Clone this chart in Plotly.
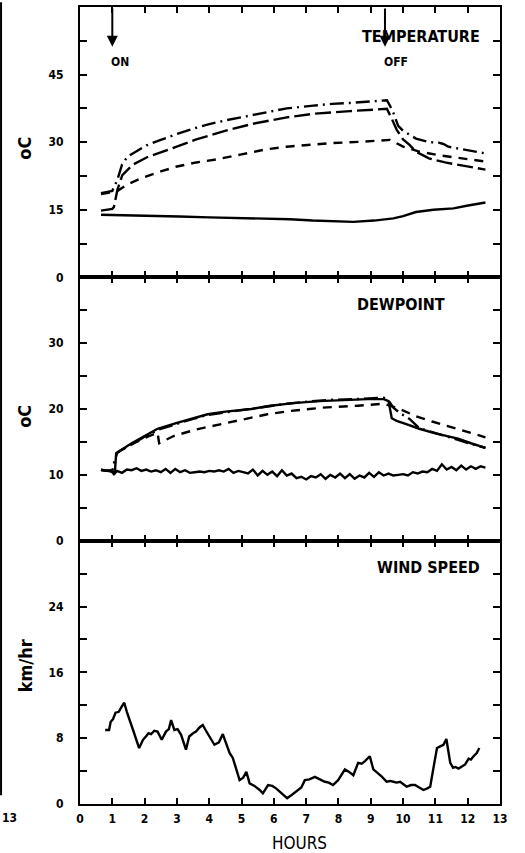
import plotly.graph_objects as go
from plotly.subplots import make_subplots

# ---------------- DATA ----------------
# Temperature panel (deg C)
t_dashdot_x = [0.65, 1.0, 1.15, 1.3, 1.47, 2.06, 2.5, 2.99, 3.6, 4.0, 4.54, 5.36, 5.9, 6.4, 7.22, 7.8, 8.36, 8.9, 9.2, 9.5, 9.6, 9.7, 9.85, 10.0, 10.4, 10.8, 11.1, 11.25, 11.4, 11.97, 12.55]
t_dashdot_y = [18.7, 19.2, 21.5, 25.0, 26.8, 29.3, 30.5, 31.8, 33.2, 34.0, 34.9, 36.1, 36.9, 37.5, 38.1, 38.5, 38.7, 39.0, 39.2, 39.3, 38.0, 36.5, 33.6, 32.5, 30.8, 30.0, 29.9, 29.6, 29.0, 28.2, 27.5]

t_longdash_x = [0.65, 1.0, 1.05, 1.16, 1.31, 1.63, 2.06, 2.99, 3.6, 4.54, 5.36, 6.4, 7.22, 8.36, 9.0, 9.5, 9.65, 9.8, 10.0, 10.2, 10.4, 10.8, 11.3, 11.97, 12.55]
t_longdash_y = [14.8, 15.2, 15.6, 19.5, 22.7, 25.0, 26.6, 29.1, 30.6, 32.6, 34.1, 35.5, 36.3, 36.9, 37.2, 37.4, 35.2, 32.8, 30.6, 29.4, 27.9, 26.4, 25.5, 24.7, 23.9]

t_dash_x = [0.65, 1.0, 1.12, 1.46, 1.9, 2.5, 3.0, 3.6, 4.25, 5.0, 5.76, 6.4, 7.0, 7.8, 8.7, 9.2, 9.6, 10.0, 10.5, 11.2, 11.9, 12.55]
t_dash_y = [18.5, 18.9, 19.0, 20.6, 22.0, 23.5, 24.6, 25.5, 26.2, 27.3, 28.4, 29.0, 29.4, 29.8, 30.1, 30.4, 30.5, 29.0, 27.9, 27.0, 26.3, 25.7]

t_amb_x = [0.65, 1.5, 2.3, 3.07, 4.0, 5.0, 5.76, 6.5, 7.2, 7.9, 8.46, 9.1, 9.7, 10.0, 10.4, 10.94, 11.3, 11.56, 11.97, 12.3, 12.55]
t_amb_y = [13.9, 13.8, 13.7, 13.5, 13.3, 13.2, 13.1, 12.9, 12.6, 12.4, 12.3, 12.6, 13.1, 13.6, 14.5, 15.0, 15.1, 15.3, 15.9, 16.3, 16.6]

# Dewpoint panel (deg C)
dp_dashdot_x = [0.65, 1.0, 1.06, 1.15, 1.3, 1.6, 2.0, 2.45, 3.0, 3.5, 3.95, 4.5, 5.0, 5.4, 5.9, 6.4, 7.0, 7.8, 8.5, 9.0, 9.4, 9.55, 9.7, 9.9, 10.2, 10.5, 11.0, 11.7, 12.1, 12.55]
dp_dashdot_y = [10.7, 10.6, 12.0, 13.3, 13.8, 14.7, 15.8, 16.9, 17.8, 18.5, 19.1, 19.5, 19.8, 20.1, 20.5, 20.8, 21.1, 21.4, 21.5, 21.6, 21.7, 21.3, 20.2, 19.4, 18.5, 17.1, 16.3, 15.3, 14.7, 14.1]

dp_solid_x = [0.65, 1.0, 1.08, 1.12, 1.3, 1.6, 2.0, 2.4, 3.0, 3.5, 3.95, 4.5, 5.3, 5.9, 6.6, 7.4, 8.2, 8.9, 9.4, 9.55, 9.65, 9.8, 10.1, 10.5, 11.0, 11.7, 12.1, 12.55]
dp_solid_y = [10.8, 10.5, 10.4, 13.3, 13.9, 14.8, 15.9, 17.0, 17.9, 18.6, 19.2, 19.6, 20.0, 20.5, 20.9, 21.2, 21.4, 21.5, 21.5, 21.2, 18.6, 18.2, 17.7, 17.0, 16.3, 15.5, 14.8, 14.1]

dp_dash_x = [1.15, 1.5, 2.0, 2.4, 2.45, 2.9, 3.6, 4.4, 5.1, 5.8, 6.5, 7.5, 8.6, 9.4, 9.9, 10.4, 10.9, 11.7, 12.55]
dp_dash_y = [13.4, 14.4, 15.6, 16.4, 14.8, 15.9, 16.9, 17.7, 18.5, 19.2, 19.7, 20.2, 20.5, 20.8, 20.0, 18.9, 18.1, 16.9, 15.7]

dp_amb_x = [0.65, 0.8, 0.95, 1.05, 1.15, 1.3, 1.45, 1.6, 1.75, 1.9, 2.05, 2.2, 2.35, 2.5, 2.65, 2.8, 2.95, 3.1, 3.25, 3.4,
            3.55, 3.7, 3.85, 4.0, 4.15, 4.3, 4.45, 4.6, 4.75, 4.9, 5.05, 5.2, 5.35, 5.5, 5.65, 5.8, 5.95, 6.1, 6.25, 6.4,
            6.55, 6.7, 6.85, 7.0, 7.15, 7.3, 7.45, 7.6, 7.75, 7.9, 8.05, 8.2, 8.35, 8.5, 8.65, 8.8, 8.95, 9.1, 9.25, 9.4,
            9.55, 9.7, 9.85, 10.0, 10.15, 10.3, 10.45, 10.6, 10.75, 10.9, 11.05, 11.2, 11.35, 11.5, 11.65, 11.8, 11.95,
            12.1, 12.25, 12.4, 12.55]
dp_amb_y = [10.8, 10.6, 10.7, 10.1, 10.6, 10.3, 10.8, 10.7, 11.0, 10.6, 10.8, 10.5, 10.7, 10.4, 10.9, 10.3, 10.9, 10.4, 10.7, 10.3,
            10.4, 10.5, 10.4, 10.6, 10.5, 10.7, 10.5, 10.9, 10.3, 10.6, 10.4, 10.2, 10.8, 9.9, 10.6, 10.0, 10.5, 9.8, 10.7, 9.9,
            10.2, 9.5, 9.7, 9.3, 9.8, 9.6, 10.1, 9.4, 10.0, 9.6, 10.2, 9.5, 10.1, 9.4, 9.9, 9.6, 10.3, 9.7, 10.4, 9.9,
            10.2, 9.9, 10.0, 10.1, 9.9, 10.4, 10.2, 10.5, 10.4, 10.9, 10.6, 11.6, 10.8, 11.2, 10.7, 11.4, 10.8,
            11.3, 10.9, 11.3, 11.1]

# Wind speed panel (km/hr)
ws_x = [0.78, 0.9, 0.95, 1.02, 1.1, 1.2, 1.3, 1.37, 1.45, 1.52, 1.65, 1.83, 1.95, 2.04, 2.12, 2.2, 2.3, 2.4, 2.53, 2.66, 2.75,
        2.82, 2.92, 3.02, 3.13, 3.28, 3.38, 3.5, 3.59, 3.7, 3.8, 3.9, 4.01, 4.16, 4.3, 4.42, 4.52, 4.63, 4.73, 4.84, 4.94,
        5.05, 5.15, 5.25, 5.4, 5.56, 5.66, 5.82, 5.95, 6.07, 6.25, 6.41, 6.55, 6.7, 6.85, 6.96, 7.1, 7.27, 7.42, 7.58, 7.7,
        7.83, 7.99, 8.1, 8.2, 8.33, 8.46, 8.61, 8.72, 8.82, 8.97, 9.08, 9.23, 9.35, 9.49, 9.6, 9.7, 9.8, 9.91, 10.0, 10.11,
        10.25, 10.37, 10.5, 10.63, 10.75, 10.84, 10.95, 11.05, 11.15, 11.25, 11.34, 11.4, 11.46, 11.55, 11.62, 11.72, 11.82,
        11.92, 12.03, 12.1, 12.18, 12.28, 12.36]
ws_y = [9.0, 9.0, 10.0, 10.3, 11.1, 11.2, 11.9, 12.3, 11.2, 10.3, 8.9, 6.8, 7.8, 8.2, 8.6, 8.5, 8.9, 8.8, 7.8, 8.8, 9.1,
        10.2, 9.0, 9.1, 8.4, 6.6, 8.2, 8.6, 8.8, 9.3, 9.6, 8.9, 8.2, 7.2, 7.5, 8.5, 7.4, 6.2, 5.6, 4.3, 2.9,
        3.2, 3.9, 2.5, 2.2, 1.7, 1.3, 2.3, 2.2, 1.9, 1.2, 0.7, 1.1, 1.5, 2.0, 2.9, 3.0, 3.3, 3.0, 2.7, 2.6,
        2.3, 2.9, 3.6, 4.2, 3.9, 3.5, 5.0, 4.9, 5.2, 5.8, 4.2, 3.7, 3.3, 2.7, 2.8, 2.7, 2.6, 2.7, 2.4, 2.1,
        2.3, 2.3, 2.0, 1.7, 1.9, 2.1, 4.6, 6.8, 7.0, 7.2, 7.9, 6.4, 5.0, 4.4, 4.5, 4.3, 4.5,
        4.8, 5.5, 5.4, 5.8, 6.2, 6.8]

x_tick_vals = list(range(0, 14))
x_tick_text = [str(v) for v in x_tick_vals]
temp_tick_vals = [0, 7.5, 15, 22.5, 30, 37.5, 45, 52.5]
temp_tick_text = ["0", "", "15", "", "30", "", "45", ""]
dp_tick_vals = [0, 5, 10, 15, 20, 25, 30, 35]
dp_tick_text = ["0", "", "10", "", "20", "", "30", ""]
ws_tick_vals = [0, 4, 8, 12, 16, 20, 24, 28]
ws_tick_text = ["0", "", "8", "", "16", "", "24", ""]

# ---------------- FIGURE ----------------
FONT = "DejaVu Sans Condensed, Liberation Sans Narrow, DejaVu Sans, sans-serif"
fig = make_subplots(rows=3, cols=1, shared_xaxes=True, vertical_spacing=0)

def line(x, y, dash, row):
    fig.add_trace(go.Scatter(x=x, y=y, mode="lines",
                             line=dict(color="black", width=2.4, dash=dash),
                             showlegend=False, hoverinfo="skip"), row=row, col=1)

DASHDOT = "14px,5px,2px,5px"
LONGDASH = "16px,5px"
SHORTDASH = "9px,7px"

line(t_amb_x, t_amb_y, "solid", 1)
line(t_dash_x, t_dash_y, SHORTDASH, 1)
line(t_longdash_x, t_longdash_y, LONGDASH, 1)
line(t_dashdot_x, t_dashdot_y, DASHDOT, 1)

line(dp_amb_x, dp_amb_y, "solid", 2)
line(dp_dash_x, dp_dash_y, SHORTDASH, 2)
line(dp_solid_x, dp_solid_y, "solid", 2)
line(dp_dashdot_x, dp_dashdot_y, DASHDOT, 2)

line(ws_x, ws_y, "solid", 3)

# paper height = 853 - 5 - 49 = 799 px
domains = {1: [0.6608, 1.0], 2: [0.3304, 0.6608], 3: [0.0, 0.3304]}
yspecs = {1: ([0, 60], temp_tick_vals, temp_tick_text),
          2: ([0, 40], dp_tick_vals, dp_tick_text),
          3: ([0, 32], ws_tick_vals, ws_tick_text)}

tickfont = dict(family=FONT, size=12, color="black", weight="bold")
for r in (1, 2, 3):
    rng, tv, tt = yspecs[r]
    fig.update_yaxes(range=rng, domain=domains[r], tickvals=tv, ticktext=tt,
                     ticks="inside", ticklen=7, tickwidth=2, tickcolor="black",
                     showline=True, linecolor="black", linewidth=2, mirror="ticks",
                     showgrid=False, zeroline=False, tickfont=tickfont,
                     ticklabelstandoff=12, fixedrange=True, row=r, col=1)
    fig.update_xaxes(range=[0, 13], tickvals=x_tick_vals, ticktext=x_tick_text,
                     ticks="inside", ticklen=6, tickwidth=2, tickcolor="black",
                     showline=True, linecolor="black", linewidth=2, mirror="ticks",
                     showgrid=False, zeroline=False, tickfont=tickfont,
                     showticklabels=(r == 3), ticklabelstandoff=3, row=r, col=1)

ann = []
title_font = dict(family=FONT, size=16, color="black", weight="bold")
ann.append(dict(x=12.45, y=53.4, xref="x", yref="y", text="TEMPERATURE", showarrow=False,
                xanchor="right", yanchor="middle", font=title_font))
ann.append(dict(x=11.37, y=35.8, xref="x2", yref="y2", text="DEWPOINT", showarrow=False,
                xanchor="right", yanchor="middle", font=title_font))
ann.append(dict(x=12.45, y=28.8, xref="x3", yref="y3", text="WIND SPEED", showarrow=False,
                xanchor="right", yanchor="middle", font=title_font))

small_font = dict(family=FONT, size=12, color="black", weight="bold")
for xv, lbl, lx in [(1.0, "ON", 1.24), (9.44, "OFF", 9.78)]:
    ann.append(dict(x=xv, y=51.2, xref="x", yref="y", ax=xv, ay=60, axref="x", ayref="y",
                    text="", showarrow=True, arrowhead=2, arrowsize=1.1, arrowwidth=2,
                    arrowcolor="black", standoff=0, startstandoff=0))
    ann.append(dict(x=lx, y=47.9, xref="x", yref="y", text=lbl, showarrow=False,
                    xanchor="center", yanchor="middle", font=small_font))

ytitle_font = dict(family=FONT, size=18, color="black", weight="bold")
ann.append(dict(x=-0.131, y=0.8235, xref="paper", yref="paper", text="oC", textangle=-90,
                showarrow=False, xanchor="center", yanchor="middle", font=ytitle_font))
ann.append(dict(x=-0.131, y=0.487, xref="paper", yref="paper", text="oC", textangle=-90,
                showarrow=False, xanchor="center", yanchor="middle", font=ytitle_font))
ann.append(dict(x=-0.131, y=0.174, xref="paper", yref="paper", text="km/hr", textangle=-90,
                showarrow=False, xanchor="center", yanchor="middle", font=ytitle_font))

ann.append(dict(x=6.8, y=-0.049, xref="x3", yref="paper", text="HOURS", showarrow=False,
                xanchor="center", yanchor="middle",
                font=dict(family=FONT, size=17, color="black")))
# stray label / border from neighbouring figure on the left edge
ann.append(dict(x=-0.1667, y=-0.0175, xref="paper", yref="paper", text="13", showarrow=False,
                xanchor="center", yanchor="middle", font=tickfont))

fig.update_layout(
    width=525, height=853,
    margin=dict(l=80, r=25, t=5, b=49),
    paper_bgcolor="white", plot_bgcolor="white",
    showlegend=False,
    annotations=ann,
    shapes=[dict(type="line", xref="paper", yref="paper", x0=-0.188, x1=-0.188,
                 y0=0.011, y1=1.006, line=dict(color="black", width=2))],
)

fig.write_html("out.html")
